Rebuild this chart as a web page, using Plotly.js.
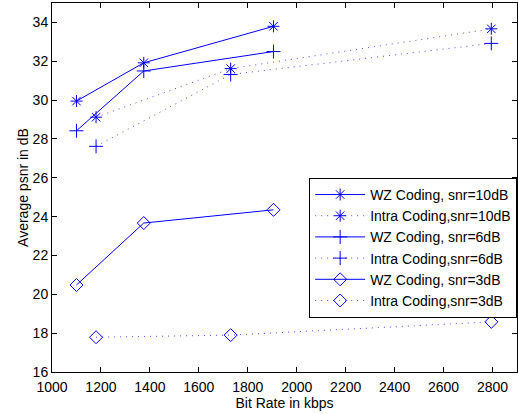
<!DOCTYPE html>
<html>
<head>
<meta charset="utf-8">
<script src="https://cdn.plot.ly/plotly-3.0.1.min.js"></script>
<style>html,body{margin:0;padding:0;background:#fff;}#chart{width:518px;height:414px;}</style>
</head>
<body>
<div id="chart"></div>
<script>
const seriesNames = [
  "WZ Coding, snr=10dB",
  "Intra Coding,snr=10dB",
  "WZ Coding, snr=6dB",
  "Intra Coding,snr=6dB",
  "WZ Coding, snr=3dB",
  "Intra Coding,snr=3dB"
];
const wzRates = [1100, 1375, 1905];
const intraRates = [1180, 1730, 2795];
const wz10 = [29.95, 31.92, 33.8];
const intra10 = [29.12, 31.62, 33.67];
const wz6 = [28.42, 31.5, 32.5];
const intra6 = [27.62, 31.32, 32.92];
const wz3 = [20.48, 23.67, 24.35];
const intra3 = [17.79, 17.9, 18.58];
const xTicks = [1000, 1200, 1400, 1600, 1800, 2000, 2200, 2400, 2600, 2800];
const yTicks = [16, 18, 20, 22, 24, 26, 28, 30, 32, 34];

const blue = "rgb(0,0,255)";
const symbols = ["asterisk-open","asterisk-open","cross-thin-open","cross-thin-open","diamond-open","diamond-open"];
const xs = [wzRates, intraRates, wzRates, intraRates, wzRates, intraRates];
const ys = [wz10, intra10, wz6, intra6, wz3, intra3];
const traces = seriesNames.map((n, i) => ({
  type: "scatter",
  mode: "lines+markers",
  name: n,
  x: xs[i],
  y: ys[i],
  line: {color: (i % 2 === 0) ? blue : "rgba(0,0,255,0.7)", width: 1, dash: (i % 2 === 0) ? "solid" : "1px,5px"},
  marker: {symbol: symbols[i], size: 10, color: blue, line: {color: blue, width: 1}}
}));

const layout = {
  width: 518, height: 414,
  margin: {l: 52, r: 1, t: 3, b: 42},
  paper_bgcolor: "#fff", plot_bgcolor: "#fff",
  font: {family: "Liberation Sans, Arial, sans-serif", size: 14, color: "#000"},
  showlegend: true,
  legend: {
    x: 0.553, y: 0.526, xanchor: "left", yanchor: "top",
    bgcolor: "#fff", bordercolor: "#000", borderwidth: 1,
    font: {size: 14}, tracegroupgap: 0, itemwidth: 50
  },
  xaxis: {
    range: [1000, 2900], tickvals: xTicks, ticktext: xTicks.map(String),
    ticks: "inside", ticklen: 5, tickcolor: "#000", mirror: "ticks",
    showline: true, linecolor: "#000", linewidth: 1, showgrid: false, zeroline: false,
    ticklabelstandoff: 2,
    title: {text: "Bit Rate in kbps", font: {size: 14}, standoff: 0}
  },
  yaxis: {
    range: [16, 35], tickvals: yTicks, ticktext: yTicks.map(String),
    ticks: "inside", ticklen: 5, tickcolor: "#000", mirror: "ticks",
    showline: true, linecolor: "#000", linewidth: 1, showgrid: false, zeroline: false,
    title: {text: "Average psnr in dB", font: {size: 14}, standoff: 0}
  }
};
Plotly.newPlot("chart", traces, layout, {displayModeBar: false, staticPlot: true});
</script>
</body>
</html>
